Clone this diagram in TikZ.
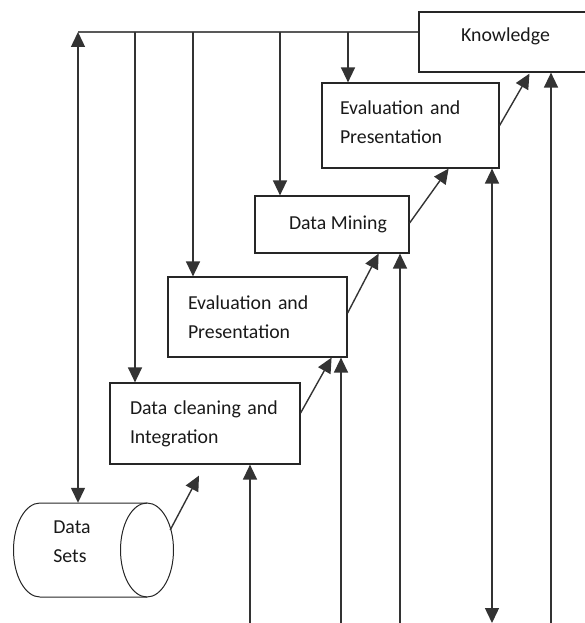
\documentclass[tikz,border=0pt]{standalone}
\usepackage{fontspec}
\setmainfont{Carlito}
\usetikzlibrary{arrows.meta,calc}
\begin{document}
\begin{tikzpicture}[x=1pt,y=-1pt,
 box/.style={draw=black!85,line width=1.2pt,rectangle,inner ysep=0pt,font=\fontsize{19.8}{29}\selectfont,text=black!90},
 arr/.style={draw=black!80,line width=1.4pt,-{Triangle[length=15pt,width=14pt]}},
 darr/.style={draw=black!80,line width=1.4pt,{Triangle[length=15pt,width=14pt]}-{Triangle[length=15pt,width=14pt]}},
 ln/.style={draw=black!65,line width=1.4pt},
 cylline/.style={draw=black!85,line width=1pt}]
\useasboundingbox (0,0) rectangle (584,623);
% boxes
\node[box, minimum width=173pt, minimum height=60pt, text height=13pt, text depth=13pt] (know) at (505.5,42) {Knowledge};
\node[box, inner xsep=18pt, text width=141pt, align=left, minimum height=85pt, text depth=35pt] (evt) at (410.5,125.5) {Evaluation and\\Presentation};
\node[box, minimum width=154pt, minimum height=57pt, align=center] (dm) at (332,224.5) {\hspace*{12pt}Data Mining};
\node[box, inner xsep=20pt, text width=139pt, align=left, minimum height=80pt] (evm) at (257.5,317) {Evaluation and\\Presentation};
\node[box, inner xsep=20pt, text width=150pt, align=left, minimum height=81pt] (dc) at (205,423.5) {Data cleaning and\\Integration};
% data sets cylinder
\node[rectangle, minimum width=159pt, minimum height=94pt, inner sep=0pt,
      font=\fontsize{19.8}{29}\selectfont, text=black!90] (cyl) at (93.5,550)
      {\raisebox{2.5pt}[0pt][0pt]{\begin{tabular}{@{}l@{}}Data\\Sets\end{tabular}}\hspace*{43pt}};
\draw[cylline] (147,503) -- (40,503) arc[start angle=90,end angle=270,x radius=26.5pt,y radius=47pt] -- (147,597);
\draw[cylline] (147,550) ellipse [x radius=26.5pt, y radius=47pt];
% top line and arrows down
\coordinate (tl) at (78,32);
\draw[ln] (tl) -- (tl -| know.west);
\draw[darr] (tl |- cyl.north) -- (tl);
\coordinate (t1) at (135,32);
\coordinate (t2) at (193,32);
\coordinate (t3) at (280,32);
\coordinate (t4) at (348,32);
\draw[arr] (t1) -- (t1 |- dc.north);
\draw[arr] (t2) -- (t2 |- evm.north);
\draw[arr] (t3) -- (t3 |- dm.north);
\draw[arr] (t4) -- (t4 |- evt.north);
% arrows up from bottom
\coordinate (b1) at (250,623);
\coordinate (b2) at (341,623);
\coordinate (b3) at (400,623);
\coordinate (b4) at (492,623);
\coordinate (b5) at (551,623);
\draw[arr] (b1) -- (b1 |- dc.south);
\draw[arr] (b2) -- (b2 |- evm.south);
\draw[arr] (b3) -- (b3 |- dm.south);
\draw[darr] (b4) -- (b4 |- evt.south);
\draw[arr] (b5) -- (b5 |- know.south);
% diagonal steps
\draw[arr] ($(cyl.east)+(-3,-20)$) -- ($(dc.south)+(-6,11)$);
\draw[arr] ($(dc.east)+(0,-10.5)$) -- ($(evm.south east)+(-16,0)$);
\draw[arr] ($(evm.east)+(0,-4)$) -- ($(dm.south east)+(-31,0)$);
\draw[arr] ($(dm.east)+(0,-1.5)$) -- ($(evt.south east)+(-51,0)$);
\draw[arr] (evt.east) -- ($(know.south)+(24,1)$);
\end{tikzpicture}
\end{document}
